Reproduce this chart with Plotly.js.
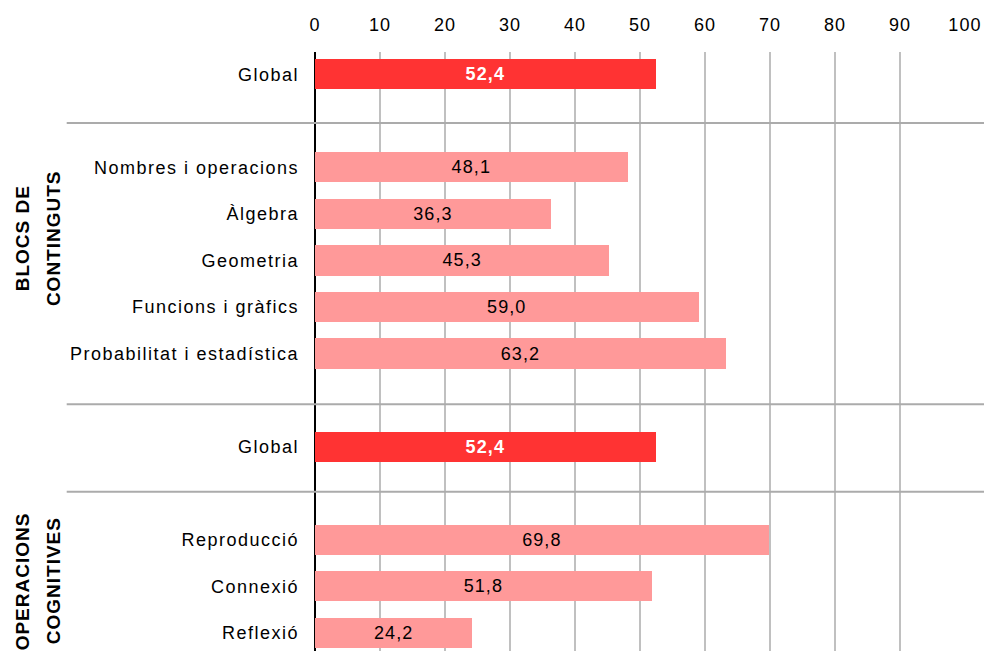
<!DOCTYPE html>
<html>
<head>
<meta charset="utf-8">
<script src="https://cdn.plot.ly/plotly-3.0.1.min.js"></script>
<style>
  html, body { margin: 0; padding: 0; background: #fff; }
  #chart { width: 984px; height: 651px; }
  #chart .xtick text, #chart .bartext { letter-spacing: 1.1px; }
  #chart .ytick text { letter-spacing: 1.5px; }
  #chart .annotation-text { letter-spacing: 1px; }
</style>
</head>
<body>
<div id="chart"></div>
<script>
// ---- data ----
const globalLabel = 'Global';
const globalValue = 52.4;
const blockCategories = ['Nombres i operacions', 'Àlgebra', 'Geometria', 'Funcions i gràfics', 'Probabilitat i estadística'];
const blockValues = [48.1, 36.3, 45.3, 59.0, 63.2];
const cognitiveCategories = ['Reproducció', 'Connexió', 'Reflexió'];
const cognitiveValues = [69.8, 51.8, 24.2];
const groupTitles = [['BLOCS DE', 'CONTINGUTS'], ['OPERACIONS', 'COGNITIVES']];
const xTicks = [0, 10, 20, 30, 40, 50, 60, 70, 80, 90, 100];

// ---- build rows (with spacer rows between sections) ----
const tickVals = [], tickText = [];
const gY = [], gX = [];
const dY = [], dX = [];
const spacers = [];
let pos = 0;
function addGlobal() { gY.push(pos); gX.push(globalValue); tickVals.push(pos); tickText.push(globalLabel); pos++; }
function addSpacer() { spacers.push(pos); pos++; }
function addGroup(cats, vals) {
  cats.forEach((c, i) => { dY.push(pos); dX.push(vals[i]); tickVals.push(pos); tickText.push(c); pos++; });
}
addGlobal(); addSpacer();
addGroup(blockCategories, blockValues); addSpacer();
addGlobal(); addSpacer();
addGroup(cognitiveCategories, cognitiveValues);

const fontFam = '"Liberation Sans", Arial, sans-serif';
const fs = 18;

const traces = [
  {
    type: 'bar', orientation: 'h', x: dX, y: dY, width: 0.65,
    marker: { color: '#FF9999' },
    texttemplate: '%{x:.1f}', textposition: 'inside', insidetextanchor: 'middle',
    textfont: { color: '#000000', size: fs, family: fontFam },
    hoverinfo: 'none', showlegend: false, cliponaxis: false
  },
  {
    type: 'bar', orientation: 'h', x: gX, y: gY, width: 0.65,
    marker: { color: '#FF3333' },
    texttemplate: '%{x:.1f}', textposition: 'inside', insidetextanchor: 'middle',
    textfont: { color: '#ffffff', size: fs, family: fontFam, weight: 'bold' },
    hoverinfo: 'none', showlegend: false, cliponaxis: false
  }
];

const sepOffsets = [0.05, 0.09, -0.03];
const shapes = spacers.map((s, i) => ({
  type: 'line', xref: 'paper', yref: 'y', x0: -0.382, x1: 1.03, y0: s + sepOffsets[i], y1: s + sepOffsets[i],
  line: { color: '#ababab', width: 2 }, layer: 'above'
}));

const titleY = [3.52, 10.89];
const titleX = [-0.4505, -0.4030];
const annotations = [];
groupTitles.forEach((lines, gi) => {
  lines.forEach((t, li) => {
    annotations.push({
      text: t, xref: 'paper', yref: 'y', x: titleX[li], y: titleY[gi],
      xanchor: 'center', yanchor: 'middle', textangle: -90, showarrow: false,
      font: { family: '"Liberation Sans Narrow", "Liberation Sans", Arial, sans-serif', size: 19, color: '#000', weight: 'bold' }
    });
  });
});

const layout = {
  width: 984, height: 651,
  margin: { l: 314.5, r: 19, t: 52, b: 0, pad: 0 },
  paper_bgcolor: '#ffffff', plot_bgcolor: '#ffffff',
  separators: ',.',
  bargap: 0,
  font: { family: fontFam, size: fs, color: '#000' },
  xaxis: {
    side: 'top', range: [0, 100], tickvals: xTicks, ticks: '',
    showgrid: true, gridcolor: '#c0c0c0', gridwidth: 2,
    zeroline: true, zerolinecolor: '#000000', zerolinewidth: 2,
    showline: false, tickfont: { size: fs, family: fontFam, color: '#000' },
    ticklabelstandoff: 16, fixedrange: true
  },
  yaxis: {
    range: [12.39, -0.477], tickvals: tickVals, ticktext: tickText, ticks: '',
    showgrid: false, zeroline: false, showline: false,
    tickfont: { size: fs, family: fontFam, color: '#000' },
    ticklabelstandoff: 15, fixedrange: true
  },
  shapes: shapes,
  annotations: annotations
};

Plotly.newPlot('chart', traces, layout, { staticPlot: true, displayModeBar: false });
</script>
</body>
</html>
